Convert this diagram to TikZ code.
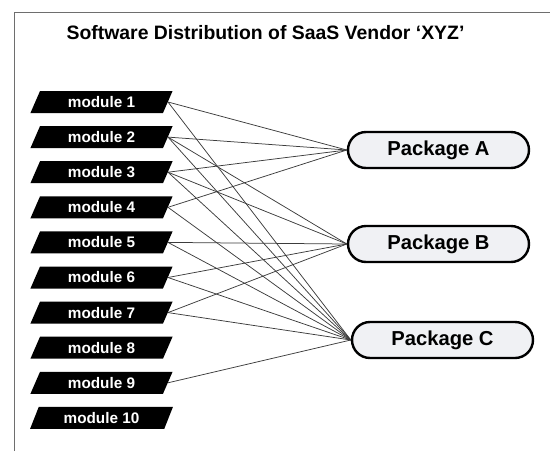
\documentclass[tikz,border=0pt]{standalone}
\usepackage{fontspec}
\setmainfont{Liberation Sans}
\usepackage{tikz}
\usetikzlibrary{shapes.geometric,positioning}
\definecolor{pkgfill}{RGB}{240,241,244}
\definecolor{framegray}{RGB}{110,110,110}
\definecolor{linkgray}{RGB}{60,60,60}

\begin{document}
\begin{tikzpicture}[x=1pt, y=-1pt, font=\bfseries,
  module/.style={trapezium, trapezium left angle=65, trapezium right angle=115,
    trapezium stretches=true, fill=black, text=white, inner sep=0pt,
    minimum width=143pt, minimum height=22pt, font=\fontsize{15.3}{17}\selectfont\bfseries},
  package/.style={draw, rounded corners=18pt, fill=pkgfill, line width=2.4pt,
    minimum width=181pt, minimum height=36pt, font=\fontsize{20.2}{22}\selectfont\bfseries},
  link/.style={linkgray, line width=0.75pt}]
\useasboundingbox (0,0) rectangle (550,451);
\draw[framegray, line width=1pt] (14,451) -- (14,12.5) -- (550,12.5);

\node(title) at (265.5,33) {\fontsize{19.4}{22}\selectfont Software Distribution of SaaS Vendor `XYZ'};

% modules
\foreach \i in {1,...,10}
  \node(m\i)[module] at (101.5,{102+35.1*(\i-1)}) {module \i};

% packages
\node(pkgA)[package] at (438.5,150) {Package A};
\node(pkgB)[package] at (438.5,244) {Package B};
\node(pkgC)[package] at (442.5,340) {Package C};

% links
\foreach \m in {1,2,3,4} \draw[link] (m\m.east) -- (pkgA.west);
\foreach \m in {2,3,5,6,7} \draw[link] (m\m.east) -- (pkgB.west);
\foreach \m in {1,2,3,4,5,6,7,9} \draw[link] (m\m.east) -- (pkgC.west);
\end{tikzpicture}
\end{document}
